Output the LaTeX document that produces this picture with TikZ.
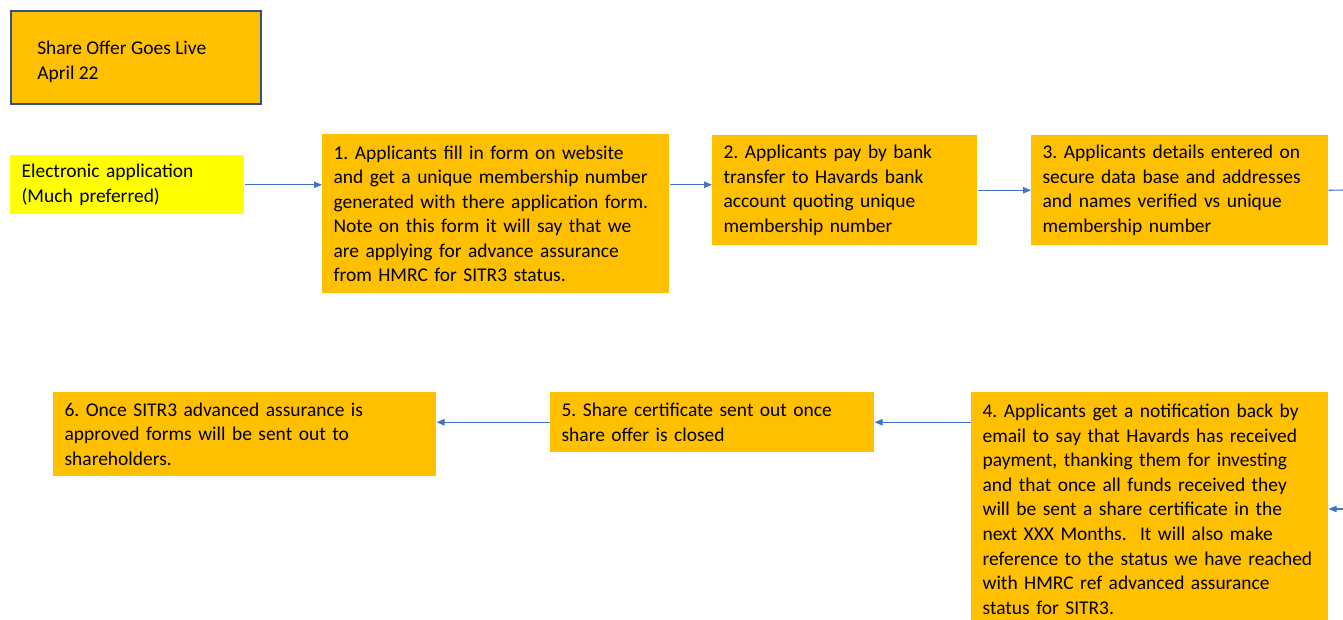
\documentclass[tikz,border=0pt]{standalone}
\usepackage{fontspec}
\setmainfont{Carlito}
\usetikzlibrary{arrows.meta,calc}
\definecolor{orng}{HTML}{FFC000}
\definecolor{ylw}{HTML}{FFFF00}
\definecolor{arrblue}{HTML}{4472C4}
\definecolor{bordblue}{HTML}{2F528F}
\tikzset{
  box/.style={draw=none,fill=orng,anchor=north west,align=left,inner xsep=8.5pt,inner ysep=0pt,
    font=\frenchspacing\fontsize{14.6}{18.4}\selectfont},
  arr/.style={draw=arrblue,line width=0.8pt,-{Triangle[length=6pt,width=4.8pt]}},
  plainline/.style={draw=arrblue,line width=0.8pt},
}
\begin{document}
\begin{tikzpicture}[x=0.75pt,y=-0.75pt]
\clip (0,0) rectangle (1343,619);
\fill[white] (0,0) rectangle (1343,619);

% Share offer
\node[draw=bordblue,fill=orng,line width=1.2pt,anchor=north west,minimum width=250*0.75pt,minimum height=93*0.75pt,inner sep=0pt] (live) at (10,10) {};
\node[anchor=west,align=left,inner sep=0pt,font=\frenchspacing\fontsize{14.6}{18.4}\selectfont] (livetext) at (37,62) {Share Offer Goes Live\\April 22};

% Electronic application
\node[box,fill=ylw,text width=234*0.75pt-17pt,minimum height=59*0.75pt] (e) at (10,155)
  {Electronic application\\(Much preferred)};

% Box 1
\node[box,text width=347*0.75pt-17pt,minimum height=159*0.75pt] (b1) at (322,134)
  {1. Applicants fill in form on website\\and get a unique membership number\\generated with there application form.\\Note on this form it will say that we\\are applying for advance assurance\\from HMRC for SITR3 status.};

% Box 2
\node[box,text width=265*0.75pt-17pt,minimum height=110*0.75pt] (b2) at (712,135)
  {2. Applicants pay by bank\\transfer to Havards bank\\account quoting unique\\membership number};

% Box 3
\node[box,text width=297*0.75pt-17pt,minimum height=110*0.75pt] (b3) at (1031,135)
  {3. Applicants details entered on\\secure data base and addresses\\and names verified vs unique\\membership number};

% Box 4
\node[box,text width=357*0.75pt-17pt,minimum height=234*0.75pt] (b4) at (971,392)
  {4. Applicants get a notification back by\\email to say that Havards has received\\payment, thanking them for investing\\and that once all funds received they\\will be sent a share certificate in the\\next XXX Months.\hspace{10pt}It will also make\\reference to the status we have reached\\with HMRC ref advanced assurance\\status for SITR3.};

% Box 5
\node[box,text width=324*0.75pt-17pt,minimum height=60*0.75pt] (b5) at (550,392)
  {5. Share certificate sent out once\\share offer is closed};

% Box 6
\node[box,text width=383*0.75pt-17pt,minimum height=84*0.75pt] (b6) at (53,392)
  {6. Once SITR3 advanced assurance is\\approved forms will be sent out to\\shareholders.};

\coordinate (r1) at (1343,190);
\coordinate (r2) at (1343,509);

\draw[arr] (e.east) -- (e.east -| b1.west);
\draw[arr] (b1.east |- e.east) -- (b2.west |- e.east);
\draw[arr] (b2.east) -- (b2.east -| b3.west);
\draw[plainline] (b3.east) -- (r1);
\draw[arr] (r2) -- (r2 -| b4.east);
\draw[arr] (b4.west |- b5.west) -- (b5.east);
\draw[arr] (b5.west) -- (b5.west -| b6.east);
\end{tikzpicture}
\end{document}
